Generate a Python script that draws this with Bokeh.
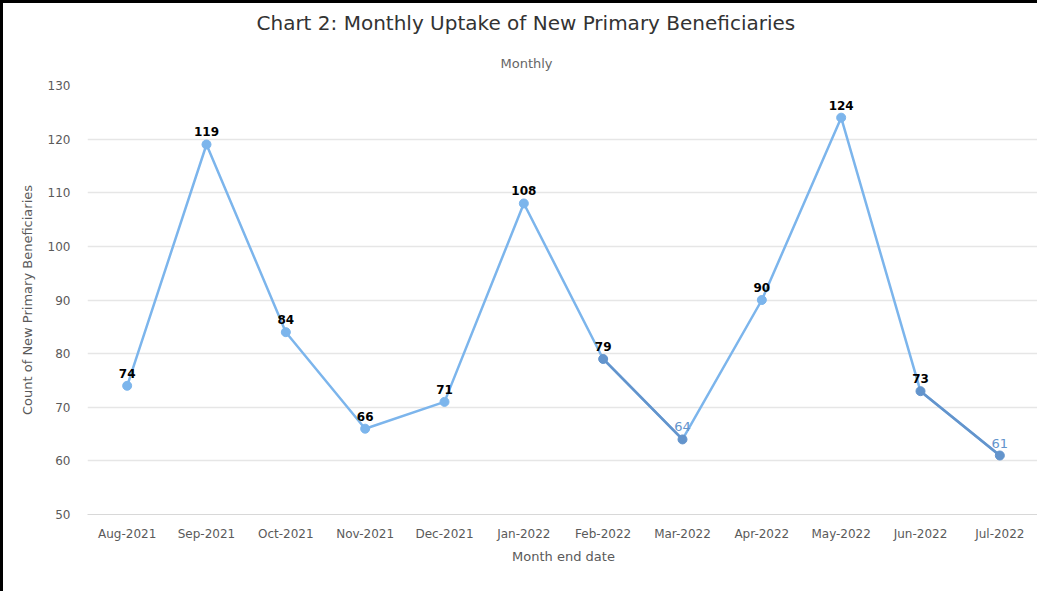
from bokeh.plotting import figure
from bokeh.models import ColumnDataSource, Title, FixedTicker, LabelSet
from bokeh.core.properties import value
from bokeh.embed import file_html
from bokeh.resources import INLINE

months = ["Aug-2021", "Sep-2021", "Oct-2021", "Nov-2021", "Dec-2021", "Jan-2022",
          "Feb-2022", "Mar-2022", "Apr-2022", "May-2022", "Jun-2022", "Jul-2022"]
counts = [74, 119, 84, 66, 71, 108, 79, 64, 90, 124, 73, 61]
y_ticks = [50, 60, 70, 80, 90, 100, 110, 120, 130]

LIGHT = "#7cb5ec"
DARK = "#6394cc"
dark_pts = {"Feb-2022", "Mar-2022", "Jun-2022", "Jul-2022"}
dark_segments = [("Feb-2022", "Mar-2022"), ("Jun-2022", "Jul-2022")]
blue_labels = {"Mar-2022", "Jul-2022"}

FONT = "DejaVu Sans"

p = figure(x_range=months, y_range=(50, 130), width=1037, height=591,
           output_backend="svg", toolbar_location=None,
           min_border_left=84, min_border_right=1, min_border_bottom=80, min_border_top=82)
p.styles = {"border-top": "3px solid black", "border-left": "3px solid black"}
p.title = None
p.outline_line_color = None
p.background_fill_color = "white"
p.border_fill_color = "white"

sub = Title(text="Monthly", align="left", text_font=FONT, text_font_size="13px",
            text_color="#666666", text_font_style="normal", offset=413, standoff=29)
p.add_layout(sub, "above")
main = Title(text="Chart 2: Monthly Uptake of New Primary Beneficiaries", align="left",
             text_font=FONT, text_font_size="20px", text_color="#333333",
             text_font_style="normal", offset=169, standoff=9)
p.add_layout(main, "above")

p.xgrid.grid_line_color = None
p.ygrid.grid_line_color = "#e6e6e6"
p.ygrid.grid_line_width = 1.5
p.yaxis.ticker = FixedTicker(ticks=y_ticks)
for ax in (p.xaxis, p.yaxis):
    ax.axis_line_color = None
    ax.major_tick_line_color = None
    ax.minor_tick_line_color = None
    ax.major_tick_out = 0
    ax.major_tick_in = 0
    ax.minor_tick_out = 0
    ax.major_label_text_font = FONT
    ax.major_label_text_font_size = "12px"
    ax.major_label_text_color = "#5a5a5a"
    ax.axis_label_text_font = FONT
    ax.axis_label_text_font_size = "13px"
    ax.axis_label_text_color = "#5a5a5a"
    ax.axis_label_text_font_style = "normal"
p.xaxis.axis_line_color = "#d8d8d8"
p.xaxis.major_label_standoff = 12
p.yaxis.major_label_standoff = 17
p.xaxis.axis_label = "Month end date"
p.xaxis.axis_label_standoff = 5
p.yaxis.axis_label = "Count of New Primary Beneficiaries"
p.yaxis.axis_label_standoff = 10

src = ColumnDataSource(dict(
    x=months, y=counts,
    color=[DARK if m in dark_pts else LIGHT for m in months],
))
p.line("x", "y", source=src, line_color=LIGHT, line_width=2.5)

idx = {m: i for i, m in enumerate(months)}
seg = ColumnDataSource(dict(
    x0=[a for a, b in dark_segments], y0=[counts[idx[a]] for a, b in dark_segments],
    x1=[b for a, b in dark_segments], y1=[counts[idx[b]] for a, b in dark_segments],
))
p.segment("x0", "y0", "x1", "y1", source=seg, line_color=DARK, line_width=2.5)
p.scatter("x", "y", source=src, size=9, fill_color="color", line_color="color")

black_src = ColumnDataSource(dict(
    x=[m for m in months if m not in blue_labels],
    y=[counts[idx[m]] for m in months if m not in blue_labels],
    label=[str(counts[idx[m]]) for m in months if m not in blue_labels],
))
blue_src = ColumnDataSource(dict(
    x=[m for m in months if m in blue_labels],
    y=[counts[idx[m]] for m in months if m in blue_labels],
    label=[str(counts[idx[m]]) for m in months if m in blue_labels],
))
p.add_layout(LabelSet(x="x", y="y", text="label", source=black_src, text_align="center",
                      text_baseline="bottom", y_offset=8, text_font=value(FONT),
                      text_font_size=value("12px"), text_font_style="bold",
                      text_color="#000000"))
p.add_layout(LabelSet(x="x", y="y", text="label", source=blue_src, text_align="center",
                      text_baseline="bottom", y_offset=8, text_font=value(FONT),
                      text_font_size=value("13px"), text_font_style="normal",
                      text_color=DARK))

open("out.html", "w").write(file_html(p, INLINE))
